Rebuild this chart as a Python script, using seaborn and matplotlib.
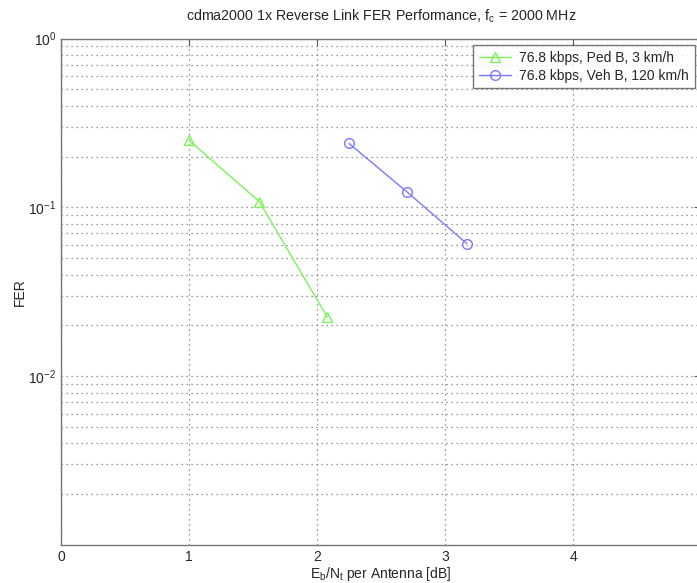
import matplotlib
matplotlib.use("Agg")
import matplotlib.pyplot as plt
import matplotlib.ticker as mticker
import numpy as np
import pandas as pd
import seaborn as sns

# Eb/Nt per antenna [dB] and FER
ped_x = [1.0, 1.55, 2.08]
ped_fer = [0.249, 0.108, 0.0224]
veh_x = [2.25, 2.70, 3.17]
veh_fer = [0.239, 0.124, 0.061]

ped_label = "76.8 kbps, Ped B, 3 km/h"
veh_label = "76.8 kbps, Veh B, 120 km/h"

sns.set_style("white")
plt.rcParams["font.family"] = ["Liberation Sans", "DejaVu Sans"]

df = pd.DataFrame({
    "ebnt": ped_x + veh_x,
    "fer": ped_fer + veh_fer,
    "case": [ped_label] * len(ped_x) + [veh_label] * len(veh_x),
})

fig = plt.figure(figsize=(6.97, 5.83), dpi=100)
ax = fig.add_axes([61 / 697, 1 - 545 / 583, 640 / 697, (545 - 38.5) / 583])

styles = [(ped_label, "#7cf25a", "^"), (veh_label, "#7a7aff", "o")]
for label, color, marker in styles:
    sub = df[df["case"] == label]
    sns.lineplot(
        data=sub, x="ebnt", y="fer", ax=ax, color=color, marker=marker,
        markersize=7, markerfacecolor="none", markeredgecolor=color,
        markeredgewidth=1.0, linewidth=1.0, label=label, estimator=None,
    )

ax.set_yscale("log")
ax.set_xlim(0, 5)
ax.set_ylim(1e-3, 1)
ax.set_xticks([0, 1, 2, 3, 4, 5])
ax.set_yticks([1e-2, 1e-1, 1])
ax.yaxis.set_major_formatter(mticker.LogFormatterMathtext())
ax.yaxis.set_minor_locator(mticker.LogLocator(base=10, subs=np.arange(2, 10)))
ax.yaxis.set_minor_formatter(mticker.NullFormatter())

dots = dict(linestyle=(0, (1, 3)), color="#7a7a7a", linewidth=0.9)
ax.grid(True, which="major", axis="both", **dots)
ax.grid(True, which="minor", axis="y", **dots)
ax.tick_params(which="both", direction="in", top=True, right=True, labelsize=10,
               length=5, color="#555555")
ax.tick_params(which="minor", length=3)
for s in ax.spines.values():
    s.set_color("#777777")
    s.set_linewidth(1.0)

ax.set_title(r"cdma2000 1x Reverse Link FER Performance, $\mathregular{f_c}$ = 2000 MHz",
             fontsize=10.3, pad=13)
ax.set_xlabel(r"$\mathregular{E_b/N_t}$ per Antenna [dB]", fontsize=10, labelpad=1)
ax.set_ylabel("FER", fontsize=10, labelpad=1)

leg = ax.legend(loc="upper right", bbox_to_anchor=(694 / 701, 0.987), fontsize=10,
                frameon=True, fancybox=False, edgecolor="#555555",
                borderpad=0.4, labelspacing=0.3, handlelength=2.3,
                handletextpad=0.6, borderaxespad=0)
leg.get_frame().set_linewidth(1.0)

fig.savefig("out.png", dpi=100)
